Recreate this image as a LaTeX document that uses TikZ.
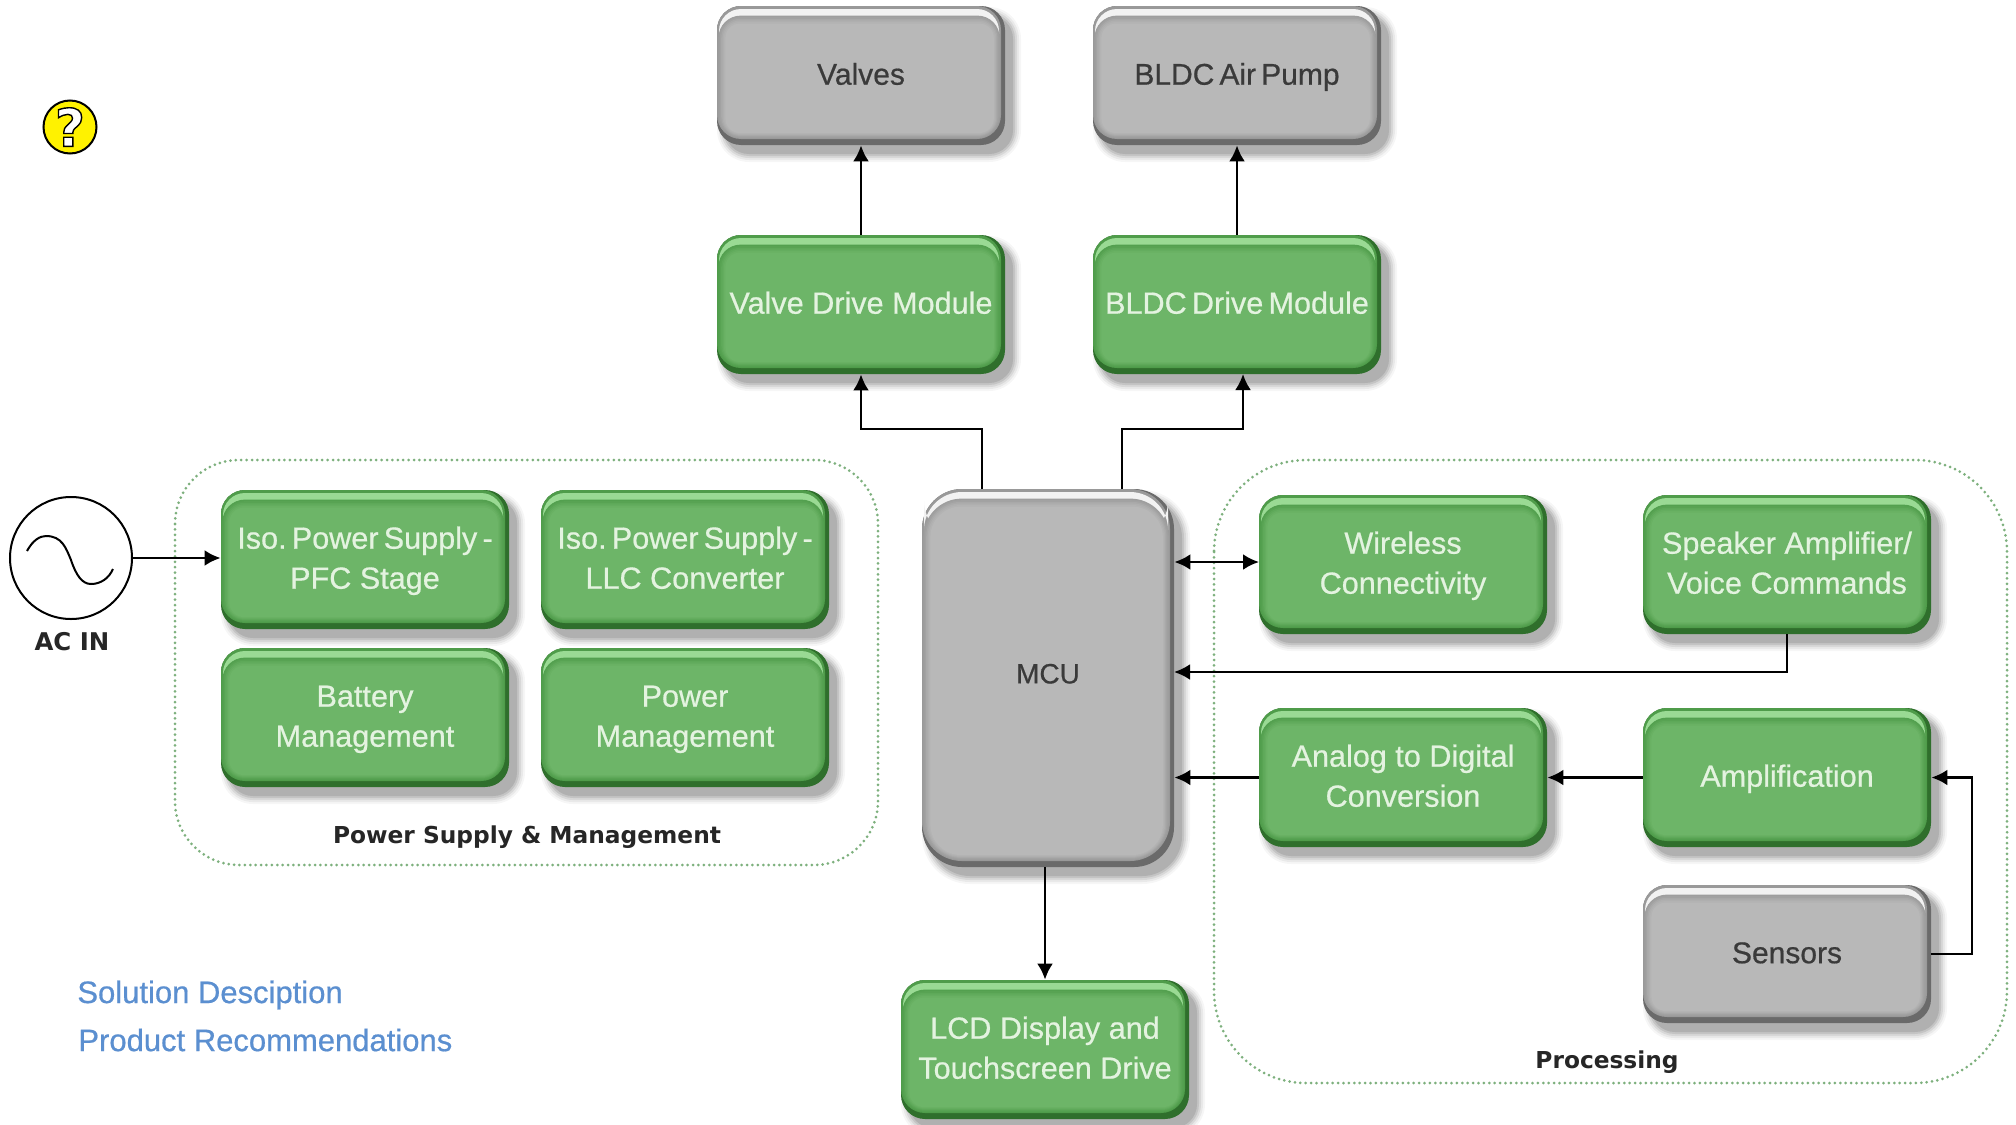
\documentclass[tikz,border=0pt]{standalone}
\usepackage{fontspec}
\setmainfont{Liberation Sans}
\newfontfamily\boxfont{Liberation Sans}[FakeBold=0.6]
\newfontfamily\lblfont{DejaVu Sans}[BoldFont={DejaVu Sans Bold}]
\usetikzlibrary{arrows.meta,calc}
\definecolor{gface}{HTML}{6DB568}
\definecolor{glight}{HTML}{9ADA94}
\definecolor{gmid}{HTML}{4F9C4A}
\definecolor{gdark}{HTML}{2F6F2C}
\definecolor{gtext}{HTML}{E4F3E0}
\definecolor{yface}{HTML}{B8B8B8}
\definecolor{ylight}{HTML}{F2F2F2}
\definecolor{ymid}{HTML}{999999}
\definecolor{ydark}{HTML}{6A6A6A}
\definecolor{ytext}{HTML}{3A3A3A}
\definecolor{linkblue}{HTML}{5B8FD0}
\definecolor{dots}{HTML}{7DB07D}
\tikzset{
  x=0.5pt,y=-0.5pt,
  conn/.style={line width=1.35pt,black,-{Latex[length=8pt,width=8pt]}},
  connboth/.style={line width=1.35pt,black,{Latex[length=8pt,width=8pt]}-{Latex[length=8pt,width=8pt]}},
  grouparea/.style={draw=dots,line width=1.5pt,dash pattern=on 0pt off 2.7pt,line cap=round},
  glabel/.style={font=\boxfont\fontsize{15.3}{20}\selectfont},
  ylabel/.style={font=\boxfont\fontsize{15}{20}\selectfont},
  boxlabel/.style={inner sep=0pt,align=center},
  grouplabel/.style={inner sep=0pt,font=\lblfont\bfseries\fontsize{11.65}{13}\selectfont,text=black!85},
  linktext/.style={inner sep=0pt,anchor=west,text=linkblue,font=\boxfont\fontsize{15.5}{18}\selectfont}
}
\newcommand\tsp{\hspace{.17em}}
\newcommand\bst{\rule[-5.4pt]{0pt}{20pt}}
% name, x1, y1, x2, y2, colour prefix (g/y), radius(pt), text
\newcommand\bevbox[8]{%
  \foreach \e/\o in {8/.035,6/.05,4/.07,2/.09,0/.1}{
    \fill[black,opacity=\o,rounded corners={#7pt+\e*0.5pt}]
      (#2+8-\e,#3+9-\e) rectangle (#4+8+\e,#5+9+\e);
  }
  \fill[#6dark,rounded corners=#7pt] (#2,#3) rectangle (#4,#5);
  \fill[#6mid,rounded corners=#7pt] (#2,#3) rectangle (#4-4,#5-6);
  \fill[#6light,rounded corners={#7pt-1pt}] (#2+2,#3+3) rectangle (#4-6,#3+50);
  \foreach \i/\m in {1/15,2/30,3/50,4/70,5/85,6/100}{
    \fill[#6face!\m!#6mid,rounded corners={#7pt-\i*0.8pt}]
      (#2+\i*1.4,#3+8+\i*1.6) rectangle (#4-4-\i*1.2,#5-6-\i*1.0);
  }
  \pgfmathsetmacro\bw{(#4-#2)*0.5}
  \pgfmathsetmacro\bh{(#5-#3)*0.5}
  \node[boxlabel,#6label,text=#6text,minimum width=\bw pt,minimum height=\bh pt] (#1) at ({(#2+#4)/2},{(#3+#5)/2}) {#8};
}
\begin{document}
\begin{tikzpicture}
\useasboundingbox (0,0) rectangle (2016,1124);
\fill[white] (0,0) rectangle (2016,1124);

% groups
\draw[grouparea,rounded corners=32pt] (175,460) rectangle (878,865);
\draw[grouparea,rounded corners=46pt] (1214,460) rectangle (2007,1083);

% boxes
\bevbox{valves}{717}{6}{1005}{145}{y}{12}{\bst Valves}
\bevbox{pump}{1093}{6}{1381}{145}{y}{12}{\bst BLDC\tsp Air\tsp Pump}
\bevbox{vd}{717}{235}{1005}{374}{g}{12}{\bst Valve Drive Module}
\bevbox{bd}{1093}{235}{1381}{374}{g}{12}{\bst BLDC\tsp Drive\tsp Module}
\bevbox{pfc}{221}{490}{509}{629}{g}{12}{\bst Iso.\tsp Power\tsp Supply\tsp -\\\bst PFC Stage}
\bevbox{llc}{541}{490}{829}{629}{g}{12}{\bst Iso.\tsp Power\tsp Supply\tsp -\\\bst LLC Converter}
\bevbox{bat}{221}{648}{509}{787}{g}{12}{\bst Battery\\\bst Management}
\bevbox{pm}{541}{648}{829}{787}{g}{12}{\bst Power\\\bst Management}
\bevbox{mcu}{922}{489}{1174}{867}{y}{20}{\rule[-6pt]{0pt}{17.4pt}\fontsize{14}{20}\selectfont MCU}
\bevbox{wl}{1259}{495}{1547}{634}{g}{12}{\bst Wireless\\\bst Connectivity}
\bevbox{spk}{1643}{495}{1931}{634}{g}{12}{\bst Speaker Amplifier/\\\bst Voice Commands}
\bevbox{adc}{1259}{708}{1547}{847}{g}{12}{\bst Analog to Digital\\\bst Conversion}
\bevbox{amp}{1643}{708}{1931}{847}{g}{12}{\bst Amplification}
\bevbox{sens}{1643}{885}{1931}{1023}{y}{12}{\bst Sensors}
\bevbox{lcd}{901}{980}{1189}{1119}{g}{12}{\bst LCD Display and\\\bst Touchscreen Drive}

% AC source
\node[circle,draw=black,line width=1pt,fill=white,minimum size=61pt,inner sep=0pt] (ac) at (71,558) {};
\draw[line width=1pt,black] (27,551) .. controls (33,540) and (40,536) .. (46,536)
  .. controls (62,536) and (66,548) .. (71,560)
  .. controls (76,575) and (82,584) .. (91,584)
  .. controls (101,584) and (109,578) .. (113,569);
\node[grouplabel,font=\lblfont\bfseries\fontsize{12.2}{13}\selectfont] (aclabel) at (72,642) {AC IN};

% help icon
\node[circle,draw=black,line width=1pt,fill=yellow,minimum size=26.5pt,inner sep=0pt,
  font=\lblfont\bfseries\fontsize{26}{26}\selectfont,text=white] (help) at (70,127)
  {\special{pdf:code q 2 Tr 0.7 w 0 0 0 RG}?\special{pdf:code 0 Tr Q}};

% connector helpers
\coordinate (mcuA) at (982,489);
\coordinate (busA) at (982,429);
\coordinate (mcuB) at (1122,489);
\coordinate (busB) at (1122,429);
\coordinate (bdIn) at (1243,374);
\coordinate (mcuC) at (1174,672);
\coordinate (wlIn) at (1259,562);
\coordinate (bus) at (1972,900);

% connectors
\draw[conn] (vd.north) -- (valves.south);
\draw[conn] (bd.north) -- (pump.south);
\draw[conn] (mcuA) -- (busA) -| (vd.south);
\draw[conn] (mcuB) -- (busB) -| (bdIn);
\draw[conn] (ac.east) -- (ac.east -| pfc.west);
\draw[connboth] (wlIn -| mcu.east) -- (wlIn);
\draw[conn] (spk.south) |- (mcuC);
\draw[conn] (adc.west) -- (adc.west -| mcu.east);
\draw[conn] (amp.west) -- (adc.east);
\draw[conn] (sens.east) -- (sens.east -| bus) -- (amp.east -| bus) -- (amp.east);
\draw[conn] (lcd.north |- mcu.south) -- (lcd.north);

% labels
\node[grouplabel] (pslabel) at (527,837) {Power Supply \& Management};
\node[grouplabel] (proclabel) at (1607,1062) {Processing};
\node[linktext] (sol) at (77,995) {Solution Desciption};
\node[linktext] (prod) at (78,1040) {Product Recommendations};
\end{tikzpicture}
\end{document}
